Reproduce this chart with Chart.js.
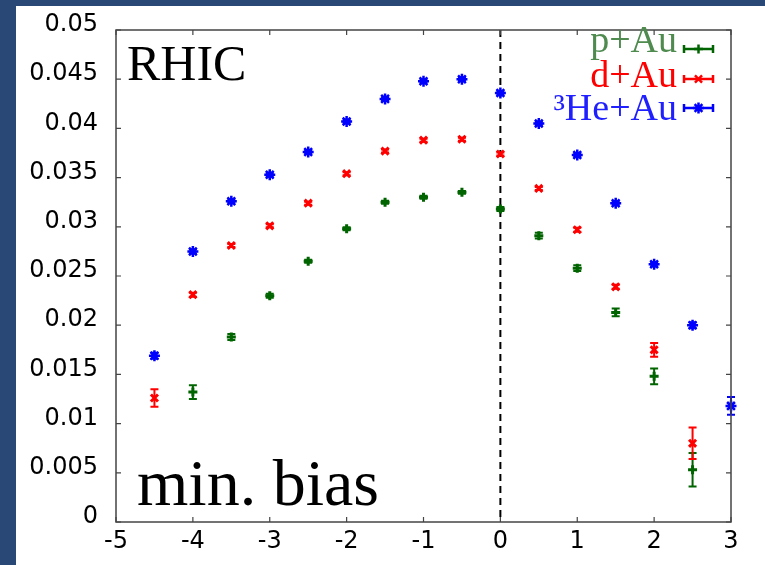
<!DOCTYPE html>
<html><head><meta charset="utf-8">
<script src="https://cdn.jsdelivr.net/npm/chart.js@4"></script>
<style>
html,body{margin:0;padding:0;background:#2a4875;width:765px;height:565px;overflow:hidden}
#wrap{position:absolute;left:16px;top:6px;width:749px;height:559px;background:#fff}
canvas{display:block}
</style></head><body>
<div id="wrap"><canvas id="c" width="749" height="559"></canvas></div>
<script>
// ---- data ----
const seriesNames = ['p+Au', 'd+Au', '\u00B3He+Au'];
const xPAu  = [-4, -3.5, -3, -2.5, -2, -1.5, -1, -0.5, 0, 0.5, 1, 1.5, 2, 2.5];
const yPAu  = [0.0132, 0.0188, 0.0230, 0.0265, 0.0298, 0.0325, 0.0330, 0.0335, 0.0318, 0.0291, 0.0258, 0.0213, 0.0148, 0.0053];
const ePAu  = [0.0007, 0.0003, 0.0002, 0.00015, 0.00015, 0.00015, 0.00015, 0.00015, 0.0002, 0.0003, 0.0003, 0.0004, 0.0008, 0.0017];
const xDAu  = [-4.5, -4, -3.5, -3, -2.5, -2, -1.5, -1, -0.5, 0, 0.5, 1, 1.5, 2, 2.5];
const yDAu  = [0.0126, 0.0231, 0.0281, 0.0301, 0.0324, 0.0354, 0.0377, 0.0388, 0.0389, 0.0374, 0.0339, 0.0297, 0.0239, 0.0175, 0.0080];
const eDAu  = [0.0009, 0.0002, 0.00015, 0.00015, 0.00015, 0.00015, 0.00015, 0.00015, 0.00015, 0.00015, 0.00015, 0.0002, 0.0002, 0.0007, 0.0016];
const xHeAu = [-4.5, -4, -3.5, -3, -2.5, -2, -1.5, -1, -0.5, 0, 0.5, 1, 1.5, 2, 2.5, 3];
const yHeAu = [0.0169, 0.0275, 0.0326, 0.0353, 0.0376, 0.0407, 0.0430, 0.0448, 0.0450, 0.0436, 0.0405, 0.0373, 0.0324, 0.0262, 0.0200, 0.0118];
const eHeAu = [0.0003, 0.0002, 0.00015, 0.00015, 0.00015, 0.00015, 0.00015, 0.00015, 0.00015, 0.0002, 0.00015, 0.00015, 0.00015, 0.0002, 0.0003, 0.0009];
const xTickLabels = ['-5', '-4', '-3', '-2', '-1', '0', '1', '2', '3'];
const yTickLabels = ['0', '0.005', '0.01', '0.015', '0.02', '0.025', '0.03', '0.035', '0.04', '0.045', '0.05'];
const topLeftText = 'RHIC';
const bottomLeftText = 'min. bias';

// ---- styles ----
const colors = ['#006400', '#ff0000', '#0000ff'];
const legendTextColors = ['#4f8a4f', '#ff0000', '#2020ff'];
const styles = ['cross', 'crossRot', 'star'];
const radii = [4.5, 5, 5.5];
const widths = [3, 3, 2.5];

const toPts = (xs, ys) => xs.map((x, i) => ({x: x, y: ys[i]}));
const allX = [xPAu, xDAu, xHeAu], allY = [yPAu, yDAu, yHeAu], allE = [ePAu, eDAu, eHeAu];

const datasets = seriesNames.map((n, k) => ({
  label: n,
  data: toPts(allX[k], allY[k]),
  errors: allE[k],
  borderColor: colors[k],
  backgroundColor: colors[k],
  pointStyle: styles[k],
  pointRadius: radii[k],
  pointBorderWidth: widths[k],
  showLine: false,
  clip: false,
  order: 3 - k
}));

const decor = {
  id: 'decor',
  beforeDatasetsDraw(chart) {
    const {ctx, chartArea: a, scales: {x}} = chart;
    ctx.save();
    ctx.strokeStyle = '#000';
    ctx.lineWidth = 2;
    ctx.setLineDash([7, 5]);
    const px = x.getPixelForValue(0);
    ctx.beginPath(); ctx.moveTo(px, a.top); ctx.lineTo(px, a.bottom); ctx.stroke();
    ctx.restore();
  },
  afterDatasetsDraw(chart) {
    const {ctx, chartArea: a, scales: {x, y}} = chart;
    ctx.save();
    // error bars
    chart.data.datasets.forEach((ds, k) => {
      ctx.strokeStyle = ds.borderColor;
      ctx.lineWidth = 2;
      ds.data.forEach((p, i) => {
        const e = ds.errors[i];
        const px = x.getPixelForValue(p.x);
        const y1 = y.getPixelForValue(p.y + e), y2 = y.getPixelForValue(p.y - e);
        ctx.beginPath();
        ctx.moveTo(px, y1); ctx.lineTo(px, y2);
        ctx.moveTo(px - 4, y1); ctx.lineTo(px + 4, y1);
        ctx.moveTo(px - 4, y2); ctx.lineTo(px + 4, y2);
        ctx.stroke();
      });
    });
    // frame
    ctx.strokeStyle = '#444';
    ctx.lineWidth = 1.5;
    ctx.strokeRect(a.left, a.top, a.right - a.left, a.bottom - a.top);
    ctx.lineWidth = 1.2;
    ctx.beginPath();
    x.ticks.forEach(t => {
      const px = x.getPixelForValue(t.value);
      ctx.moveTo(px, a.bottom); ctx.lineTo(px, a.bottom - 5);
      ctx.moveTo(px, a.top); ctx.lineTo(px, a.top + 5);
    });
    y.ticks.forEach(t => {
      const py = y.getPixelForValue(t.value);
      ctx.moveTo(a.left, py); ctx.lineTo(a.left + 5, py);
      ctx.moveTo(a.right, py); ctx.lineTo(a.right - 5, py);
    });
    ctx.stroke();
    // legend
    const ly = [43, 73, 102], tb = [46, 81, 114];
    ctx.font = '38px "Liberation Serif"';
    ctx.textAlign = 'right';
    ctx.textBaseline = 'alphabetic';
    chart.data.datasets.forEach((ds, k) => {
      ctx.fillStyle = legendTextColors[k];
      ctx.fillText(ds.label, 661, tb[k]);
      ctx.strokeStyle = ds.borderColor;
      ctx.lineWidth = 2.5;
      ctx.beginPath();
      ctx.moveTo(668, ly[k]); ctx.lineTo(697, ly[k]);
      ctx.moveTo(668, ly[k] - 4); ctx.lineTo(668, ly[k] + 4);
      ctx.moveTo(697, ly[k] - 4); ctx.lineTo(697, ly[k] + 4);
      ctx.stroke();
      Chart.helpers.drawPoint(ctx, {pointStyle: ds.pointStyle, radius: ds.pointRadius, borderWidth: ds.pointBorderWidth}, 682.5, ly[k]);
    });
    // annotations
    ctx.fillStyle = '#000';
    ctx.textAlign = 'left';
    ctx.font = '50px "Liberation Serif"';
    ctx.fillText(topLeftText, 111, 74);
    ctx.font = '66px "Liberation Serif"';
    ctx.fillText(bottomLeftText, 121, 499);
    ctx.restore();
  }
};

const hiddenGrid = (len) => ({display: true, drawOnChartArea: false, drawTicks: true,
  tickLength: len, color: 'rgba(0,0,0,0)'});

new Chart(document.getElementById('c'), {
  type: 'scatter',
  data: {datasets},
  options: {
    responsive: false,
    devicePixelRatio: 1,
    animation: false,
    layout: {padding: {left: 0, top: 24, right: 34, bottom: 0}},
    plugins: {legend: {display: false}, tooltip: {enabled: false}},
    scales: {
      x: {
        type: 'linear', min: -5, max: 3,
        ticks: {stepSize: 1, color: '#000', padding: 3, maxRotation: 0,
          font: {family: 'DejaVu Sans', size: 24},
          callback: (v, i) => xTickLabels[i]},
        grid: hiddenGrid(2),
        border: {display: false},
        afterFit(s) { s.height = 43; }
      },
      y: {
        type: 'linear', min: 0, max: 0.05,
        ticks: {stepSize: 0.005, color: '#000', padding: 2, labelOffset: -5,
          font: {family: 'DejaVu Sans', size: 24},
          callback: (v, i) => yTickLabels[i]},
        grid: hiddenGrid(16),
        border: {display: false},
        afterFit(s) { s.width = 100; }
      }
    }
  },
  plugins: [decor]
});
</script>
</body></html>
